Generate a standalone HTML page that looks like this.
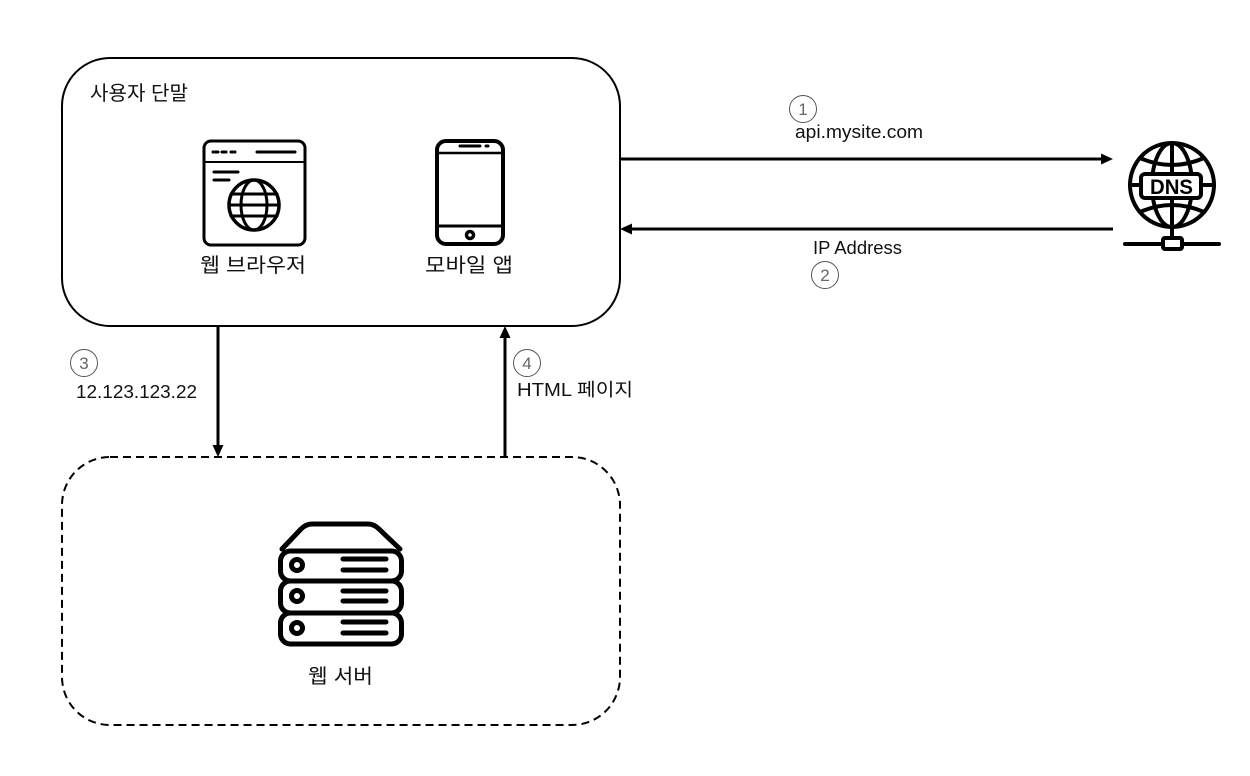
<!DOCTYPE html>
<html lang="ko">
<head>
<meta charset="utf-8">
<style>
html,body{margin:0;padding:0;background:#fff;width:1250px;height:776px;overflow:hidden}
svg{display:block}
text{font-family:"Liberation Sans","Noto Sans CJK KR",sans-serif;fill:#111;font-size:18px}
.k{font-size:20px;fill:#111}
.n{font-size:17px;fill:#666;text-anchor:middle}
.i{fill:none;stroke:#000;stroke-linecap:round;stroke-linejoin:round}
</style>
</head>
<body>
<svg width="1250" height="776" viewBox="0 0 1250 776" xmlns="http://www.w3.org/2000/svg">
<!-- containers -->
<rect x="62" y="58" width="558" height="268" rx="48" fill="#fff" stroke="#000" stroke-width="2"/>
<rect x="62" y="457" width="558" height="268" rx="48" fill="#fff" stroke="#000" stroke-width="2" stroke-dasharray="8 5"/>

<!-- connectors -->
<g stroke="#000" stroke-width="3">
<line x1="620" y1="159" x2="1103" y2="159"/>
<line x1="630" y1="229" x2="1113" y2="229"/>
<line x1="218" y1="326" x2="218" y2="447"/>
<line x1="505" y1="336" x2="505" y2="457"/>
</g>
<g fill="#000">
<polygon points="1113,159 1101,153.500 1101,164.500"/>
<polygon points="620,229 632,223.500 632,234.500"/>
<polygon points="218,457 212.500,445 223.500,445"/>
<polygon points="505,326 499.500,338 510.500,338"/>
</g>

<!-- browser icon -->
<g class="i" stroke-width="3">
<rect x="204" y="141" width="101" height="104" rx="7"/>
<line x1="204" y1="162" x2="305" y2="162" stroke-width="2"/>
<line x1="213" y1="152" x2="218" y2="152"/>
<line x1="222" y1="152" x2="226" y2="152"/>
<line x1="231" y1="152" x2="235" y2="152"/>
<line x1="257" y1="152" x2="295" y2="152"/>
<line x1="214" y1="172" x2="238" y2="172"/>
<line x1="214" y1="180" x2="229" y2="180"/>
<circle cx="254" cy="205" r="25" stroke-width="3.500"/>
<ellipse cx="254" cy="205" rx="13" ry="25"/>
<line x1="231" y1="194" x2="277" y2="194"/>
<line x1="229" y1="205" x2="279" y2="205"/>
<line x1="231" y1="216" x2="277" y2="216"/>
</g>

<!-- phone icon -->
<g class="i" stroke-width="4">
<rect x="437" y="141" width="66" height="103" rx="9"/>
<line x1="437" y1="153" x2="503" y2="153" stroke-width="2.500"/>
<line x1="437" y1="226" x2="503" y2="226" stroke-width="3"/>
<line x1="460" y1="146" x2="480" y2="146" stroke-width="3"/>
<line x1="486" y1="146" x2="488" y2="146" stroke-width="3"/>
<circle cx="470" cy="235" r="3.500" stroke-width="3.500"/>
</g>

<!-- DNS icon -->
<g class="i" stroke-width="4">
<circle cx="1172" cy="185" r="42"/>
<ellipse cx="1172" cy="185" rx="20" ry="42"/>
<line x1="1172" y1="143" x2="1172" y2="173"/>
<line x1="1172" y1="198" x2="1172" y2="238"/>
<path d="M1140 158 Q1172 172 1204 158"/>
<path d="M1140 212 Q1172 198 1204 212"/>
<line x1="1130" y1="185" x2="1141" y2="185"/>
<line x1="1201" y1="185" x2="1214" y2="185"/>
<rect x="1141" y="174" width="60" height="24" rx="4" fill="#fff"/>
<line x1="1125" y1="244" x2="1162" y2="244"/>
<line x1="1182" y1="244" x2="1219" y2="244"/>
<rect x="1163" y="238" width="19" height="11" rx="2"/>
</g>
<text x="1150" y="194" textLength="43" lengthAdjust="spacingAndGlyphs" style="font-size:21px;font-weight:bold;fill:#000">DNS</text>

<!-- server icon -->
<g class="i" stroke-width="5">
<path d="M282 549 L301 529 Q306 524 312 524 L368 524 Q374 524 379 529 L400 549"/>
<rect x="280.500" y="551" width="121" height="30" rx="10"/>
<rect x="280.500" y="581" width="121" height="32" rx="10"/>
<rect x="280.500" y="613" width="121" height="31" rx="10"/>
<circle cx="297" cy="565" r="5.500"/>
<circle cx="297" cy="596" r="5.500"/>
<circle cx="297" cy="628" r="5.500"/>
<line x1="343" y1="559" x2="386" y2="559"/>
<line x1="343" y1="570" x2="386" y2="570"/>
<line x1="343" y1="591" x2="386" y2="591"/>
<line x1="343" y1="601" x2="386" y2="601"/>
<line x1="343" y1="622" x2="386" y2="622"/>
<line x1="343" y1="633" x2="386" y2="633"/>
</g>

<!-- numbered circles -->
<g fill="#fff" stroke="#555" stroke-width="1">
<circle cx="803" cy="109" r="13.500"/>
<circle cx="825" cy="275" r="13.500"/>
<circle cx="84" cy="363" r="13.500"/>
<circle cx="527" cy="363" r="13.500"/>
</g>
<text class="n" x="803" y="115">1</text>
<text class="n" x="825" y="281">2</text>
<text class="n" x="84" y="369">3</text>
<text class="n" x="527" y="369">4</text>

<!-- labels -->
<text class="k" x="90" y="100" textLength="98" lengthAdjust="spacingAndGlyphs">사용자 단말</text>
<text class="k" x="200" y="272" textLength="106" lengthAdjust="spacingAndGlyphs">웹 브라우저</text>
<text class="k" x="425" y="272" textLength="88" lengthAdjust="spacingAndGlyphs">모바일 앱</text>
<text class="k" x="308" y="683" textLength="65" lengthAdjust="spacingAndGlyphs">웹 서버</text>
<text x="795" y="138" textLength="128" lengthAdjust="spacingAndGlyphs">api.mysite.com</text>
<text x="813" y="254" textLength="89" lengthAdjust="spacingAndGlyphs">IP Address</text>
<text x="76" y="398" textLength="121" lengthAdjust="spacingAndGlyphs">12.123.123.22</text>
<text x="517" y="396" textLength="116" lengthAdjust="spacingAndGlyphs">HTML 페이지</text>
</svg>
</body>
</html>
